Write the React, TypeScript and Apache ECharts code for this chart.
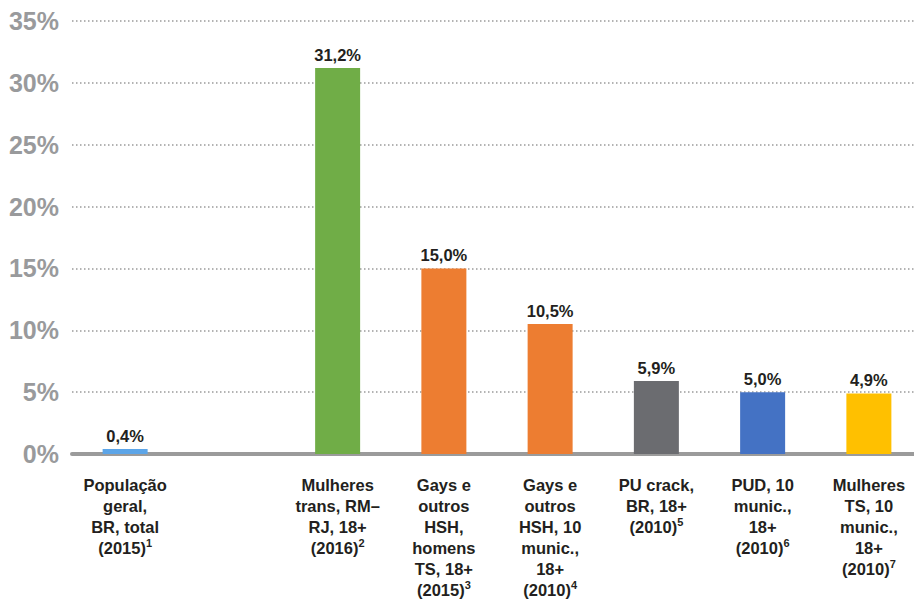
import React, { useEffect, useRef } from 'react';
import * as echarts from 'echarts';

const categories = [
  'População\ngeral,\nBR, total\n(2015){sup|1}',
  '',
  'Mulheres\ntrans, RM–\nRJ, 18+\n(2016){sup|2}',
  'Gays e\noutros\nHSH,\nhomens\nTS, 18+\n(2015){sup|3}',
  'Gays e\noutros\nHSH, 10\nmunic.,\n18+\n(2010){sup|4}',
  'PU crack,\nBR, 18+\n(2010){sup|5}',
  'PUD, 10\nmunic.,\n18+\n(2010){sup|6}',
  'Mulheres\nTS, 10\nmunic.,\n18+\n(2010){sup|7}',
];
const values: (number | null)[] = [0.4, null, 31.2, 15.0, 10.5, 5.9, 5.0, 4.9];
const barColors = ['#5CA5E8', '#ffffff', '#70AD47', '#ED7D31', '#ED7D31', '#6B6C70', '#4472C4', '#FFC000'];
const yMin = 0;
const yMax = 35;
const yStep = 5;

const FONT = '"Liberation Sans", Arial, sans-serif';

export default function App() {
  const ref = useRef<HTMLDivElement>(null);
  useEffect(() => {
    const chart = echarts.init(ref.current!, null, { renderer: 'svg' });
    chart.setOption({
      animation: false,
      grid: { left: 72, right: 0, top: 21, bottom: 142.5 },
      xAxis: {
        type: 'category',
        data: categories,
        axisTick: { show: false },
        axisLine: { lineStyle: { color: '#9b9b9b', width: 4 } },
        axisLabel: {
          interval: 0,
          margin: 20,
          color: '#231f20',
          fontFamily: FONT,
          fontWeight: 'bold',
          fontSize: 16.5,
          lineHeight: 21,
          align: 'center',
          rich: {
            sup: {
              fontSize: 11,
              lineHeight: 15,
              verticalAlign: 'top',
              color: '#231f20',
              fontFamily: FONT,
              fontWeight: 'bold',
            },
          },
        },
      },
      yAxis: {
        type: 'value',
        min: yMin,
        max: yMax,
        interval: yStep,
        axisLine: { show: false },
        axisTick: { show: false },
        axisLabel: {
          formatter: '{value}%',
          color: '#999a9c',
          fontFamily: FONT,
          fontWeight: 'bold',
          fontSize: 25,
          margin: 13,
        },
        splitLine: {
          lineStyle: { color: '#9a9a9a', width: 1.5, type: [1.5, 2.5] },
        },
      },
      series: [
        {
          type: 'bar',
          barWidth: 45,
          data: values.map((v, i) =>
            v == null ? '-' : { value: v, itemStyle: { color: barColors[i] } }
          ),
          label: {
            show: true,
            position: 'top',
            distance: 5,
            color: '#231f20',
            fontFamily: FONT,
            fontWeight: 'bold',
            fontSize: 16.5,
            formatter: (p: any) => p.value.toFixed(1).replace('.', ',') + '%',
          },
        },
      ],
    });
    return () => chart.dispose();
  }, []);
  return (
    <div style={{ position: 'absolute', left: 0, top: 0, width: 914, height: 600, overflow: 'hidden' }}>
      <div ref={ref} style={{ width: 922, height: 600 }} />
    </div>
  );
}
